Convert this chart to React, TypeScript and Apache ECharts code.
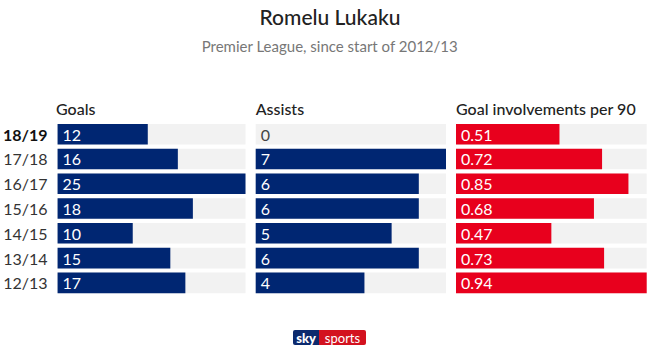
import React, { useEffect, useRef } from "react";
import * as echarts from "echarts";

const seasons = ["18/19", "17/18", "16/17", "15/16", "14/15", "13/14", "12/13"];
const goals = [12, 16, 25, 18, 10, 15, 17];
const assists = [0, 7, 6, 6, 5, 6, 4];
const involvements = [0.51, 0.72, 0.85, 0.68, 0.47, 0.73, 0.94];
const panelTitles = ["Goals", "Assists", "Goal involvements per 90"];
const panelMax = [25, 7, 0.94];

const NAVY = "#002672";
const RED = "#e8001d";
const BG = "#f2f2f2";
const FONT = "Lato, 'Open Sans', sans-serif";

export default function App() {
  const ref = useRef<HTMLDivElement>(null);
  useEffect(() => {
    if (!ref.current) return;
    const chart = echarts.init(ref.current, undefined, { renderer: "svg" });
    const lefts = [56, 255.7, 456];
    const widths = [189.5, 190.3, 190.7];
    const top = 121.8;
    const height = 173.5;
    const datasets = [goals, assists, involvements];
    const colors = [NAVY, NAVY, RED];

    const grids = lefts.map((l, i) => ({ left: l, width: widths[i], top, height, containLabel: false }));
    const xAxes = lefts.map((_, i) => ({
      type: "value",
      gridIndex: i,
      min: 0,
      max: panelMax[i],
      show: false,
    }));
    const yAxes = lefts.map((_, i) => ({
      type: "category",
      gridIndex: i,
      data: seasons,
      inverse: true,
      axisLine: { show: false },
      axisTick: { show: false },
      splitLine: { show: false },
      axisLabel: i === 0
        ? {
            show: true,
            margin: 10,
            fontFamily: FONT,
            fontSize: 16,
            color: "#333",
            formatter: (v: string) => (v === "18/19" ? `{b|${v}}` : v),
            rich: { b: { fontWeight: "bold", color: "#111", fontSize: 16, fontFamily: FONT } },
          }
        : { show: false },
    }));
    const series = datasets.map((d, i) => ({
      type: "bar",
      xAxisIndex: i,
      yAxisIndex: i,
      data: d.map((v) => ({
        value: v,
        label: v === 0 ? { color: "#444" } : undefined,
      })),
      barCategoryGap: "17%",
      showBackground: true,
      backgroundStyle: { color: BG },
      itemStyle: { color: colors[i] },
      label: {
        show: true,
        position: "insideLeft",
        distance: 5,
        color: "#fff",
        fontFamily: FONT,
        fontSize: 16,
        formatter: (p: any) => (i === 2 ? Number(p.value).toFixed(2) : String(p.value)),
      },
    }));

    const graphics: any[] = [
      {
        type: "text",
        left: "center",
        top: 6,
        style: { text: "Romelu Lukaku", font: `500 21px ${FONT}`, fill: "#222" },
      },
      {
        type: "text",
        left: "center",
        top: 38,
        style: { text: "Premier League, since start of 2012/13", font: `15px ${FONT}`, fill: "#777" },
      },
      ...panelTitles.map((t, i) => ({
        type: "text",
        x: lefts[i],
        y: 100,
        style: { text: t, font: `500 16px ${FONT}`, fill: "#222" },
      })),
      {
        type: "group",
        x: 293,
        y: 330,
        children: [
          { type: "rect", shape: { x: 0, y: 0, width: 26, height: 15, r: [2, 0, 0, 2] }, style: { fill: "#0c2a6e" } },
          { type: "rect", shape: { x: 26, y: 0, width: 47, height: 15, r: [0, 2, 2, 0] }, style: { fill: "#d3121f" } },
          { type: "text", x: 13, y: 7.5, style: { text: "sky", font: `900 13px ${FONT}`, fill: "#fff", align: "center", verticalAlign: "middle" } },
          { type: "text", x: 49.5, y: 7.5, style: { text: "sports", font: `13px ${FONT}`, fill: "#fff", align: "center", verticalAlign: "middle" } },
        ],
      },
    ];

    chart.setOption({
      animation: false,
      backgroundColor: "#fff",
      grid: grids,
      xAxis: xAxes,
      yAxis: yAxes,
      series,
      graphic: graphics,
    });
    return () => chart.dispose();
  }, []);
  return <div ref={ref} style={{ width: 660, height: 350, position: "absolute", left: 0, top: 0 }} />;
}
